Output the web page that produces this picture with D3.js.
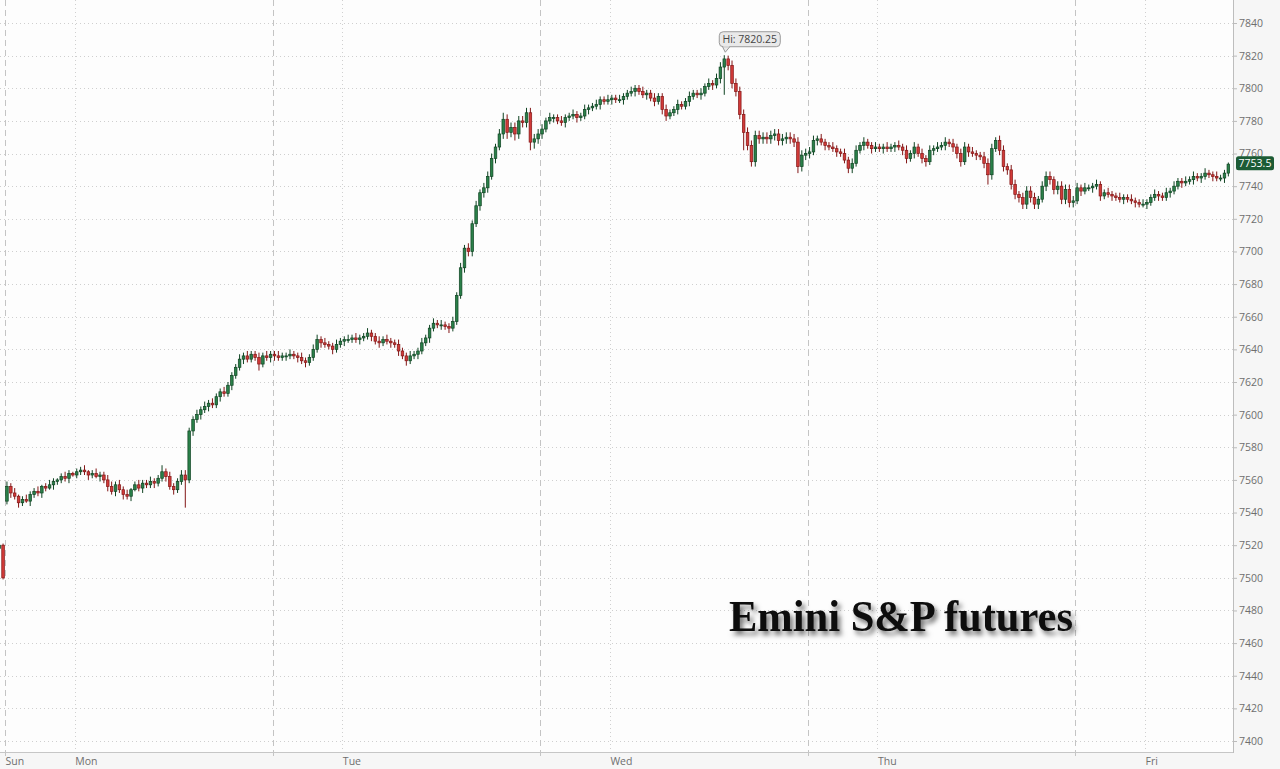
<!DOCTYPE html>
<html><head><meta charset="utf-8">
<script src="https://cdn.jsdelivr.net/npm/d3@7"></script>
<style>
html,body{margin:0;padding:0;background:#f6f6f6;}
svg{display:block;}
</style></head><body>
<svg id="chart" width="1280" height="769"></svg>
<script>
// ---- data ----
const dayLabels = ["Sun","Mon","Tue","Wed","Thu","Fri"];
const dayLabelIdx = [0, 18, 87, 156, 225, 294];
const sessionStartIdx = [0, 69, 138, 207, 276];
const midnightIdx = [18, 87, 156, 225, 294];
const yTicks = [7400,7420,7440,7460,7480,7500,7520,7540,7560,7580,7600,7620,7640,7660,7680,7700,7720,7740,7760,7780,7800,7820,7840];
const lastPrice = 7753.5;

const preOpen = 7518;
const preClose = [7520, 7500];
const preWickHi = [1, 1];
const preWickLo = [1, 1];
const sunFirstOpen = 7547;

const closeSun = [7556,7552,7550,7546,7548,7547,7551,7553,7552,7556,
 7555,7557,7559,7560,7562,7561,7564,7563,7565,7566,
 7565,7563,7564,7562,7563,7560,7556,7553,7557,7554,
 7551,7550,7554,7557,7555,7558,7557,7559,7558,7561,
 7565,7562,7556,7554,7559,7563,7560,7590,7597,7600,
 7603,7605,7607,7606,7611,7614,7613,7618,7624,7629,
 7634,7636,7634,7637,7635,7631,7636,7635,7637];
const closeMon = [7636,7635,7636,7636,7637,7636,7635,7633,7632,7635,
 7640,7646,7644,7643,7642,7640,7643,7645,7646,7646,
 7647,7646,7647,7648,7650,7648,7645,7644,7646,7645,
 7644,7643,7639,7636,7633,7636,7637,7639,7644,7647,
 7653,7656,7655,7655,7654,7653,7657,7673,7690,7702,
 7700,7717,7728,7736,7739,7746,7757,7764,7772,7781,
 7773,7776,7772,7780,7779,7785,7767,7769,7772];
const closeTue = [7775,7780,7782,7782,7780,7779,7782,7783,7784,7782,
 7783,7787,7788,7789,7790,7793,7792,7793,7794,7793,
 7793,7795,7797,7798,7800,7798,7796,7797,7794,7792,
 7795,7787,7783,7785,7787,7790,7789,7792,7795,7797,
 7796,7797,7801,7803,7802,7806,7813,7818,7814,7803,
 7798,7784,7773,7765,7755,7771,7769,7770,7769,7771,
 7772,7768,7769,7770,7769,7767,7752,7759,7760];
const closeWed = [7761,7768,7769,7767,7765,7764,7763,7761,7760,7756,
 7751,7754,7762,7765,7767,7765,7763,7764,7763,7764,
 7763,7764,7765,7764,7762,7757,7760,7764,7760,7757,
 7755,7762,7763,7764,7765,7767,7766,7764,7760,7755,
 7764,7761,7760,7759,7758,7754,7747,7763,7768,7762,
 7752,7750,7741,7735,7733,7729,7737,7733,7729,7732,
 7740,7746,7744,7738,7740,7732,7738,7730,7731];
const closeThu = [7739,7737,7739,7739,7740,7741,7734,7736,7735,7734,
 7733,7732,7733,7732,7731,7730,7729,7729,7730,7733,
 7735,7734,7733,7736,7737,7740,7743,7742,7743,7744,
 7746,7745,7746,7748,7747,7746,7745,7745,7748,7753.5];

const wickHiSun = [3,2,3,1,2,3,2,2,3,1, 2,3,2,1,2,3,2,1,2,2, 3,1,2,3,2,2,3,3,2,3, 2,3,1,2,3,2,2,3,2,2, 4,2,3,2,2,3,3,2,2,3, 2,3,2,3,2,2,3,2,2,2, 3,2,3,2,2,3,2,3,2];
const wickLoSun = [2,3,2,3,2,1,3,2,2,3, 2,1,3,2,2,2,3,1,2,2, 2,3,2,1,3,2,3,2,3,2, 3,2,3,1,2,3,2,2,3,2, 2,3,2,3,2,2,17,2,3,2, 3,2,3,2,2,3,2,2,3,2, 2,3,2,2,2,4,2,2,3];
const wickHiMon = [2,3,2,2,3,2,2,3,2,2, 3,3,2,3,2,2,3,2,2,3, 2,3,2,2,3,2,2,3,2,3, 2,2,3,2,2,3,2,2,3,2, 2,3,2,3,2,2,3,2,3,2, 3,2,3,2,3,3,3,2,3,4, 3,3,3,3,3,3,3,3,3];
const wickLoMon = [3,2,2,3,2,2,3,2,3,2, 2,2,3,2,2,3,2,2,3,2, 2,2,3,2,2,3,2,3,2,2, 3,2,3,2,3,2,2,3,2,2, 3,2,2,3,2,3,2,2,2,3, 3,3,2,3,3,3,2,3,2,3, 4,3,4,3,3,3,5,4,3];
const wickHiTue = [3,2,3,2,2,3,2,2,3,2, 2,3,2,2,3,2,2,3,2,2, 3,2,2,3,2,2,3,2,2,3, 2,2,3,2,2,3,2,2,3,2, 2,3,2,3,2,3,3,2.25,2,3, 3,3,3,3,3,3,3,3,3,3, 3,3,3,3,3,3,3,3,3];
const wickLoTue = [3,2,2,3,2,2,3,2,2,3, 2,2,3,2,2,3,2,2,3,2, 2,3,2,2,3,2,2,3,2,3, 2,3,3,2,2,3,2,2,3,2, 2,3,2,2,3,2,3,17,3,3, 3,3,11,3,3,3,3,3,3,3, 3,3,3,3,3,3,4,3,3];
const wickHiWed = [3,3,2,3,2,2,3,2,2,3, 2,3,3,2,3,2,2,3,2,2, 3,2,2,3,2,3,2,3,2,3, 2,3,2,3,2,3,2,3,2,3, 3,2,3,2,2,3,3,3,2,3, 3,2,3,3,2,3,3,3,3,2, 3,3,3,2,3,3,3,3,3];
const wickLoWed = [3,2,3,2,3,2,2,3,2,2, 3,3,2,2,3,2,3,2,2,3, 2,2,3,2,3,3,2,3,2,3, 3,2,3,2,2,3,2,3,3,3, 2,3,2,3,2,3,6,3,2,3, 3,3,3,3,3,3,3,3,3,3, 2,3,3,3,3,3,3,3,3];
const wickHiThu = [3,2,3,2,2,3,2,2,3,2, 2,3,2,2,3,2,2,3,2,2, 3,2,2,3,2,3,2,2,3,2, 3,2,2,3,2,2,3,2,2,1];
const wickLoThu = [2,3,2,2,3,2,3,2,2,3, 2,2,3,2,2,3,2,2,3,2, 2,3,2,2,3,2,2,3,2,2, 3,2,3,2,2,3,2,2,3,2];

// ---- build bars ----
const sessions = [closeSun, closeMon, closeTue, closeWed, closeThu];
const hiW = [wickHiSun, wickHiMon, wickHiTue, wickHiWed, wickHiThu];
const loW = [wickLoSun, wickLoMon, wickLoTue, wickLoWed, wickLoThu];
const bars = [];
let prev = preOpen;
preClose.forEach((c,k)=>{
  const o = prev;
  bars.push({i:k-preClose.length, o, c, h:Math.max(o,c)+preWickHi[k], l:Math.min(o,c)-preWickLo[k]});
  prev = c;
});
prev = sunFirstOpen;
sessions.forEach((arr,s)=>arr.forEach((c,k)=>{
  const o = prev;
  bars.push({i:sessionStartIdx[s]+k, o, c, h:Math.max(o,c)+hiW[s][k], l:Math.min(o,c)-loW[s][k]});
  prev = c;
}));

// ---- layout ----
const svg = d3.select("#chart");
const plotR = 1233, plotB = 752;
const x = d3.scaleLinear().domain([-1.29, 316.7]).range([0, plotR]);
const y = d3.scaleLinear().domain([7400, 7840]).range([741, 23]);

svg.append("rect").attr("x",0).attr("y",0).attr("width",plotR).attr("height",plotB).attr("fill","#fdfdfd");

const defs = svg.append("defs");
defs.append("clipPath").attr("id","clip").append("rect").attr("x",0).attr("y",0).attr("width",plotR).attr("height",plotB);
const f = defs.append("filter").attr("id","shadow").attr("x","-10%").attr("y","-30%").attr("width","130%").attr("height","180%");
f.append("feDropShadow").attr("dx",3).attr("dy",4).attr("stdDeviation",2.6).attr("flood-color","#000").attr("flood-opacity",0.55);

// grid
const grid = svg.append("g");
grid.selectAll("line.h").data(yTicks).join("line")
  .attr("x1",0).attr("x2",plotR).attr("y1",d=>Math.round(y(d))+0.5).attr("y2",d=>Math.round(y(d))+0.5)
  .attr("stroke","#cfcfcf").attr("stroke-dasharray","1,3");
grid.selectAll("line.m").data(midnightIdx).join("line")
  .attr("x1",d=>Math.round(x(d))+0.5).attr("x2",d=>Math.round(x(d))+0.5).attr("y1",0).attr("y2",plotB+4)
  .attr("stroke","#d0d0d0").attr("stroke-dasharray","1,3");
grid.selectAll("line.s").data(sessionStartIdx).join("line")
  .attr("x1",d=>Math.round(x(d))+0.5).attr("x2",d=>Math.round(x(d))+0.5).attr("y1",0).attr("y2",plotB+5)
  .attr("stroke","#c4c4c4").attr("stroke-dasharray","6,4");

// candles
const upFill = "#2a8049", upStroke = "#0f4322", dnFill = "#d13a38", dnStroke = "#821616";
const cg = svg.append("g").attr("clip-path","url(#clip)");
const bw = 2.6;
const cand = cg.selectAll("g.c").data(bars).join("g");
cand.append("line")
  .attr("x1",d=>x(d.i+0.5)).attr("x2",d=>x(d.i+0.5))
  .attr("y1",d=>y(d.h)).attr("y2",d=>y(d.l))
  .attr("stroke",d=>d.c>=d.o?upStroke:dnStroke).attr("stroke-width",1);
cand.append("rect")
  .attr("x",d=>x(d.i+0.5)-bw/2).attr("width",bw)
  .attr("y",d=>y(Math.max(d.o,d.c)))
  .attr("height",d=>Math.max(1, Math.abs(y(d.o)-y(d.c))))
  .attr("fill",d=>d.c>=d.o?upFill:dnFill)
  .attr("stroke",d=>d.c>=d.o?upStroke:dnStroke).attr("stroke-width",0.7);

// axes
svg.append("line").attr("x1",0).attr("x2",plotR).attr("y1",plotB+0.5).attr("y2",plotB+0.5).attr("stroke","#c6c6c6");
svg.append("line").attr("x1",plotR+0.5).attr("x2",plotR+0.5).attr("y1",0).attr("y2",plotB+1).attr("stroke","#bdbdbd");

const yAxis = svg.append("g").attr("transform",`translate(${plotR},0)`)
  .call(d3.axisRight(y).tickValues(yTicks).tickSize(4).tickPadding(2).tickFormat(d3.format("d")));
yAxis.select(".domain").remove();
yAxis.selectAll(".tick line").attr("stroke","#bbb");
yAxis.selectAll(".tick text").attr("fill","#6e6e6e").style("font-family","'Open Sans', sans-serif").style("font-size","10.5px");

const xAxis = svg.append("g").attr("transform",`translate(0,${plotB})`)
  .call(d3.axisBottom(x).tickValues(dayLabelIdx).tickSize(0).tickFormat((d,k)=>dayLabels[k]));
xAxis.select(".domain").remove();
xAxis.selectAll(".tick text").attr("fill","#6e6e6e").attr("text-anchor","start").attr("dx",0).attr("dy","0.35em").attr("y",9)
  .style("font-family","'Open Sans', sans-serif").style("font-size","10.5px");

// last price tag
const lp = y(lastPrice);
svg.append("rect").attr("x",plotR+3).attr("y",lp-8).attr("width",38).attr("height",14).attr("rx",2.5)
  .attr("fill","#1c5b35");
svg.append("text").attr("x",plotR+22).attr("y",lp-1).attr("text-anchor","middle").attr("dominant-baseline","central")
  .attr("fill","#fff").style("font-family","'Open Sans', sans-serif").style("font-size","10.5px").text(d3.format(".1f")(lastPrice));

// high annotation
const hiBar = bars.reduce((a,b)=>b.h>a.h?b:a);
const hx = x(hiBar.i+0.5), hy = y(hiBar.h);
const ann = svg.append("g");
ann.append("path").attr("d",`M${hx-2},${hy-9} L${hx+6},${hy-9} L${hx+1},${hy-3} Z`).attr("fill","#e9e9e9").attr("stroke","#9a9a9a");
ann.append("rect").attr("x",hx-5).attr("y",hy-23.5).attr("width",61).attr("height",15).attr("rx",4)
  .attr("fill","#e9e9e9").attr("stroke","#9a9a9a");
ann.append("path").attr("d",`M${hx-1},${hy-9.2} L${hx+5},${hy-9.2}`).attr("stroke","#e9e9e9").attr("stroke-width",1.4);
ann.append("text").attr("x",hx+25.5).attr("y",hy-16).attr("text-anchor","middle").attr("dominant-baseline","central")
  .attr("fill","#444").style("font-family","'Open Sans', sans-serif").style("font-size","10.5px").text("Hi: " + hiBar.h.toFixed(2));

// title
svg.append("text").attr("x",729).attr("y",631).attr("textLength",344).attr("lengthAdjust","spacingAndGlyphs")
  .attr("filter","url(#shadow)")
  .style("font-family","'Liberation Serif', 'Times New Roman', serif").style("font-weight","bold").style("font-size","44px")
  .attr("fill","#0a0a0a").text("Emini S&P futures");
</script>
</body></html>
